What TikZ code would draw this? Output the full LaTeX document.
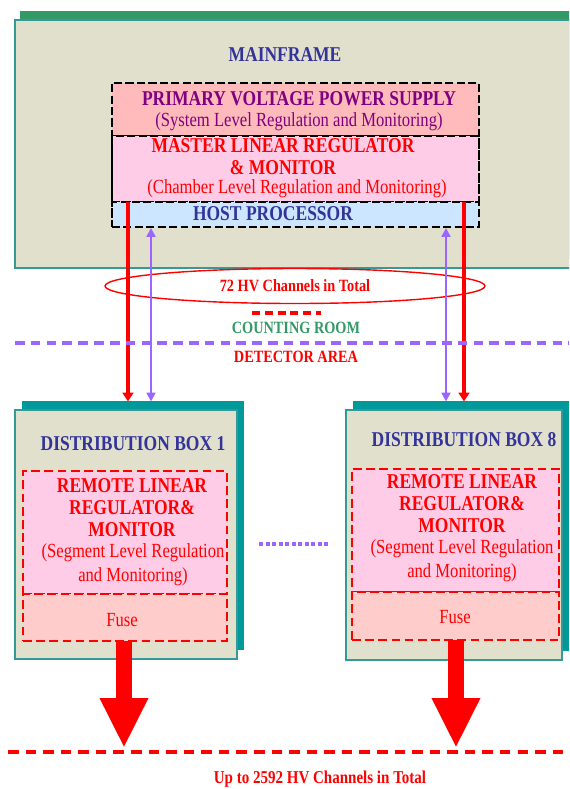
\documentclass[tikz,border=0pt]{standalone}
\usepackage{fontspec}
\setmainfont{Liberation Serif}[FakeStretch=0.83]
\usepackage{tikz}
\usetikzlibrary{shapes.geometric, arrows.meta, positioning, shadows, fit}

\definecolor{panelbeige}{HTML}{E0E0CC}
\definecolor{edgeteal}{HTML}{339999}
\definecolor{mfshade}{HTML}{339966}
\definecolor{dbshade}{HTML}{009999}
\definecolor{pvpsfill}{HTML}{FFBBBB}
\definecolor{mlrpink}{HTML}{FFCCE8}
\definecolor{hostblue}{HTML}{CCE6FF}
\definecolor{fusefill}{HTML}{FFCCCC}
\definecolor{navy}{HTML}{333399}
\definecolor{plum}{HTML}{800080}
\definecolor{lilac}{HTML}{9966FF}
\definecolor{roomgreen}{HTML}{339966}

\begin{document}
\begin{tikzpicture}[
  x=0.02cm, y=-0.02cm,
  panel/.style={rectangle, draw=edgeteal, fill=panelbeige, line width=0.8pt, anchor=north west, outer sep=0pt},
  mfpanel/.style={panel, general shadow={fill=mfshade, shadow xshift=0.1cm, shadow yshift=0.18cm}},
  dbpanel/.style={panel, general shadow={fill=dbshade, shadow xshift=0.15cm, shadow yshift=0.18cm}},
  corepart/.style={rectangle, draw=black, dash pattern=on 4.5pt off 2pt, line width=1.2pt, minimum width=7.34cm, outer sep=0pt, inner sep=0pt},
  remotepart/.style={rectangle, draw=red, dash pattern=on 5pt off 2.5pt, line width=1.2pt, outer sep=0pt, inner sep=0pt},
  boxtitle/.style={font=\bfseries\fontsize{12}{13}\selectfont, text=navy, inner sep=0pt},
  redhead/.style={font=\bfseries\fontsize{12}{12.5}\selectfont, text=red, align=center, inner sep=0pt},
  rednote/.style={font=\fontsize{11.4}{13.5}\selectfont, text=red, align=center, inner sep=0pt},
  smallhead/.style={font=\bfseries\fontsize{9.8}{11}\selectfont, inner sep=0pt},
  hvline/.style={draw=red, line width=2.2pt, -{Triangle[width=6pt,length=5pt]}},
  ctrlline/.style={draw=lilac, line width=1.4pt, {Triangle[width=5pt,length=5pt]}-{Triangle[width=5pt,length=5pt]}},
  fatarrow/.style={draw=red, line width=0.32cm, -{Triangle[width=0.9cm,length=1.0cm]}}
]
\useasboundingbox (0,0) rectangle (569,789);
\clip (0,0) rectangle (569,789);

% mainframe
\node[mfpanel, minimum width=11.4cm, minimum height=4.96cm] (mainframe) at (15,20) {};
\node[boxtitle] (mftitle) at (285,55) {MAINFRAME};

\node[corepart, fill=pvpsfill, minimum height=1.06cm, anchor=north west] (pps) at (112,83) {};
\node[corepart, fill=mlrpink, minimum height=1.32cm, below=0pt of pps] (mlr) {};
\node[corepart, fill=hostblue, minimum height=0.5cm, below=0pt of mlr] (host) {};
\node[draw=black, dash pattern=on 4.5pt off 2pt, line width=1.6pt, inner sep=0pt, fit=(pps)(host)] (core) {};

\node[boxtitle, text=plum] (ppsname) at (299,99) {PRIMARY VOLTAGE POWER SUPPLY};
\node[rednote, text=plum] (ppsnote) at (299,122) {(System Level Regulation and Monitoring)};
\node[redhead] (mlrname) at (283,157) {MASTER LINEAR REGULATOR\\\& MONITOR};
\node[rednote] (mlrnote) at (297,189) {(Chamber Level Regulation and Monitoring)};
\node[boxtitle] (hostname) at (273,214) {HOST PROCESSOR};

% distribution boxes
\node[dbpanel, minimum width=4.44cm, minimum height=4.98cm] (box1) at (15,410) {};
\node[dbpanel, minimum width=4.32cm, minimum height=5.0cm] (box8) at (346,410) {};
\coordinate (box1top) at ([yshift=0.17cm]box1.north);
\coordinate (box8top) at ([yshift=0.17cm]box8.north);

\node[boxtitle] (box1name) at (133,444) {DISTRIBUTION BOX 1};
\node[remotepart, fill=mlrpink, minimum width=4.08cm, minimum height=2.46cm, anchor=north west] (remote1) at (23,471) {};
\node[remotepart, fill=fusefill, minimum width=4.08cm, minimum height=0.94cm, below=0pt of remote1] (fuse1) {};
\node[redhead] (remote1name) at (132,508) {REMOTE LINEAR\\REGULATOR\&\\MONITOR};
\node[rednote] (remote1note) at (133,565) {(Segment Level Regulation\\and Monitoring)};
\node[rednote] (fuse1name) at (122,620) {Fuse};

\node[boxtitle] (box8name) at (464,440) {DISTRIBUTION BOX 8};
\node[remotepart, fill=mlrpink, minimum width=4.14cm, minimum height=2.46cm, anchor=north west] (remote8) at (352,469) {};
\node[remotepart, fill=fusefill, minimum width=4.14cm, minimum height=0.96cm, below=0pt of remote8] (fuse8) {};
\node[redhead] (remote8name) at (462,504) {REMOTE LINEAR\\REGULATOR\&\\MONITOR};
\node[rednote] (remote8note) at (462,561) {(Segment Level Regulation\\and Monitoring)};
\node[rednote] (fuse8name) at (455,617) {Fuse};

\draw[lilac, line width=2pt, dash pattern=on 2.5pt off 1.2pt] (259,544) -- (329,544);

% channels between mainframe and boxes
\node[ellipse, draw=red, line width=0.8pt, minimum width=7.6cm, minimum height=0.7cm, inner sep=0pt, smallhead, text=red] (hvtotal) at (295,286) {72 HV Channels in Total};

\coordinate (r1) at (128,202);
\coordinate (p1) at (151,228);
\coordinate (p8) at (446,228);
\coordinate (r8) at (464,202);
\draw[hvline] (r1) -- (r1 |- box1top);
\draw[ctrlline] (p1) -- (p1 |- box1top);
\draw[ctrlline] (p8) -- (p8 |- box8top);
\draw[hvline] (r8) -- (r8 |- box8top);

\draw[red, line width=1.8pt, dash pattern=on 4.5pt off 2.8pt] (252,313) -- (321,313);
\node[smallhead, text=roomgreen] (counting) at (296,328) {COUNTING ROOM};
\draw[lilac, line width=1.8pt, dash pattern=on 5.5pt off 3.5pt] (15,343) -- (569,343);
\node[smallhead, text=red] (detector) at (296,357) {DETECTOR AREA};

% outputs
\coordinate (drop1) at (124,748);
\coordinate (drop8) at (456,748);
\draw[fatarrow] (fuse1.south -| drop1) -- (drop1);
\draw[fatarrow] (fuse8.south -| drop8) -- (drop8);

\draw[red, line width=1.8pt, dash pattern=on 6pt off 4pt] (8,752) -- (569,752);
\node[smallhead, text=red, font=\bfseries\fontsize{10.3}{11}\selectfont] (hvall) at (320,779) {Up to 2592 HV Channels in Total};

\end{tikzpicture}
\end{document}
